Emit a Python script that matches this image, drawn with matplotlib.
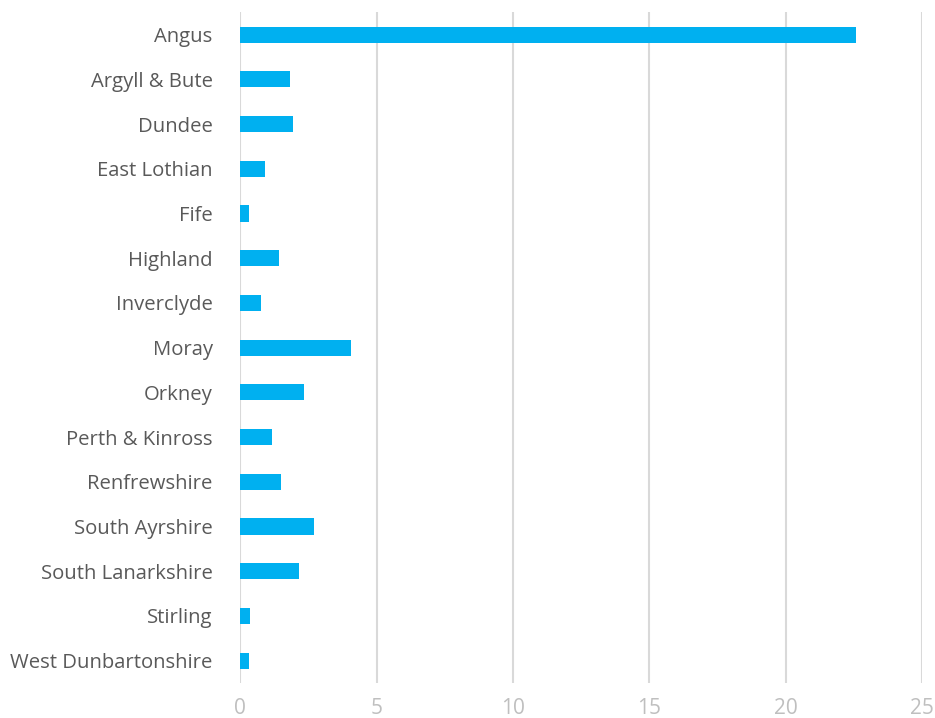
import matplotlib
matplotlib.use('Agg')
import matplotlib.pyplot as plt

plt.rcParams['font.family'] = ['Open Sans', 'DejaVu Sans']

areas = ['Angus', 'Argyll & Bute', 'Dundee', 'East Lothian', 'Fife',
         'Highland', 'Inverclyde', 'Moray', 'Orkney', 'Perth & Kinross',
         'Renfrewshire', 'South Ayrshire', 'South Lanarkshire', 'Stirling',
         'West Dunbartonshire']
values = [22.57, 1.82, 1.93, 0.91, 0.32, 1.42, 0.76, 4.06, 2.34, 1.16,
          1.49, 2.71, 2.16, 0.36, 0.32]
xticks = [0, 5, 10, 15, 20, 25]

fig = plt.figure(figsize=(9.35, 7.18), dpi=100)
ax = fig.add_axes([0.257, 0.0487, 0.729, 0.9343])

pos = range(len(areas))
ax.barh(pos, values, height=0.36, color='#00b0f0', zorder=3)

ax.set_xlim(0, 25)
ax.set_ylim(len(areas) - 0.5, -0.5)
ax.set_xticks(xticks)
ax.set_yticks(list(pos))
ax.set_yticklabels(areas)

ax.grid(axis='x', color='#d9d9d9', linewidth=1.5, zorder=0)
ax.grid(axis='y', visible=False)
for s in ax.spines.values():
    s.set_visible(False)

ax.tick_params(axis='y', length=0, pad=20, labelsize=14.6, labelcolor='#595959')
ax.tick_params(axis='x', length=0, pad=11, labelsize=15, labelcolor='#bfbfbf')

fig.savefig('out.png', dpi=100)
